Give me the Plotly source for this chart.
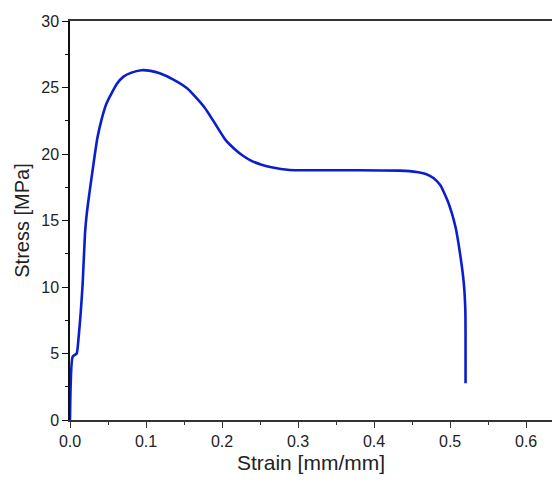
import plotly.graph_objects as go

strain = [0.0, 0.0035, 0.0088, 0.011, 0.014, 0.0167, 0.0197, 0.022, 0.0254,
          0.031, 0.036, 0.042, 0.048, 0.055, 0.062, 0.070, 0.080, 0.094, 0.106, 0.118,
          0.136, 0.154, 0.165, 0.177, 0.189, 0.204, 0.216,
          0.228, 0.240, 0.252, 0.265, 0.289, 0.330, 0.380, 0.434, 0.456, 0.468,
          0.478, 0.487, 0.498, 0.507, 0.513, 0.518, 0.520, 0.5203]
stress = [0.0, 4.76, 5.0, 6.0, 8.0, 10.3, 14.0, 15.5, 17.0,
          19.3, 21.2, 22.7, 23.8, 24.6, 25.3, 25.8, 26.1, 26.3, 26.25, 26.07,
          25.6, 24.95, 24.3, 23.5, 22.45, 21.1, 20.4,
          19.85, 19.45, 19.2, 19.0, 18.8, 18.78, 18.78, 18.75, 18.65, 18.5,
          18.2, 17.67, 16.29, 14.53, 12.53, 10.28, 8.27, 2.76]

fig = go.Figure()
fig.add_trace(go.Scatter(x=strain, y=stress, mode="lines",
                         line=dict(color="#0a1ecc", width=2.6, shape="spline", smoothing=0.5),
                         showlegend=False))

font = "Liberation Sans, Arial, sans-serif"
fig.update_layout(
    width=552, height=482,
    margin=dict(l=70, r=0, t=21, b=62),
    plot_bgcolor="white", paper_bgcolor="white",
    font=dict(family=font, size=16, color="#222"),
    xaxis=dict(range=[0, 0.634], tickvals=[0, 0.1, 0.2, 0.3, 0.4, 0.5, 0.6],
               ticktext=["0.0", "0.1", "0.2", "0.3", "0.4", "0.5", "0.6"],
               showgrid=False, zeroline=False, showline=True, linecolor="#333",
               linewidth=1.5, mirror=True, ticks="outside", ticklen=6, tickwidth=1.2,
               tickcolor="#333",
               minor=dict(dtick=0.05, tick0=0, ticks="outside", ticklen=3, tickcolor="#333"),
               title=dict(text="Strain [mm/mm]", font=dict(size=21), standoff=6)),
    yaxis=dict(range=[0, 30], dtick=5, showgrid=False, zeroline=False, showline=True,
               linecolor="#111", linewidth=1.5, ticks="outside", ticklen=6, tickwidth=1.2,
               tickcolor="#111",
               minor=dict(dtick=2.5, tick0=0, ticks="outside", ticklen=3, tickcolor="#111"),
               title=dict(text="Stress [MPa]", font=dict(size=20), standoff=6)),
)
fig.write_html("out.html", config={"displayModeBar": False},
               post_script="document.body.style.margin='0';")
